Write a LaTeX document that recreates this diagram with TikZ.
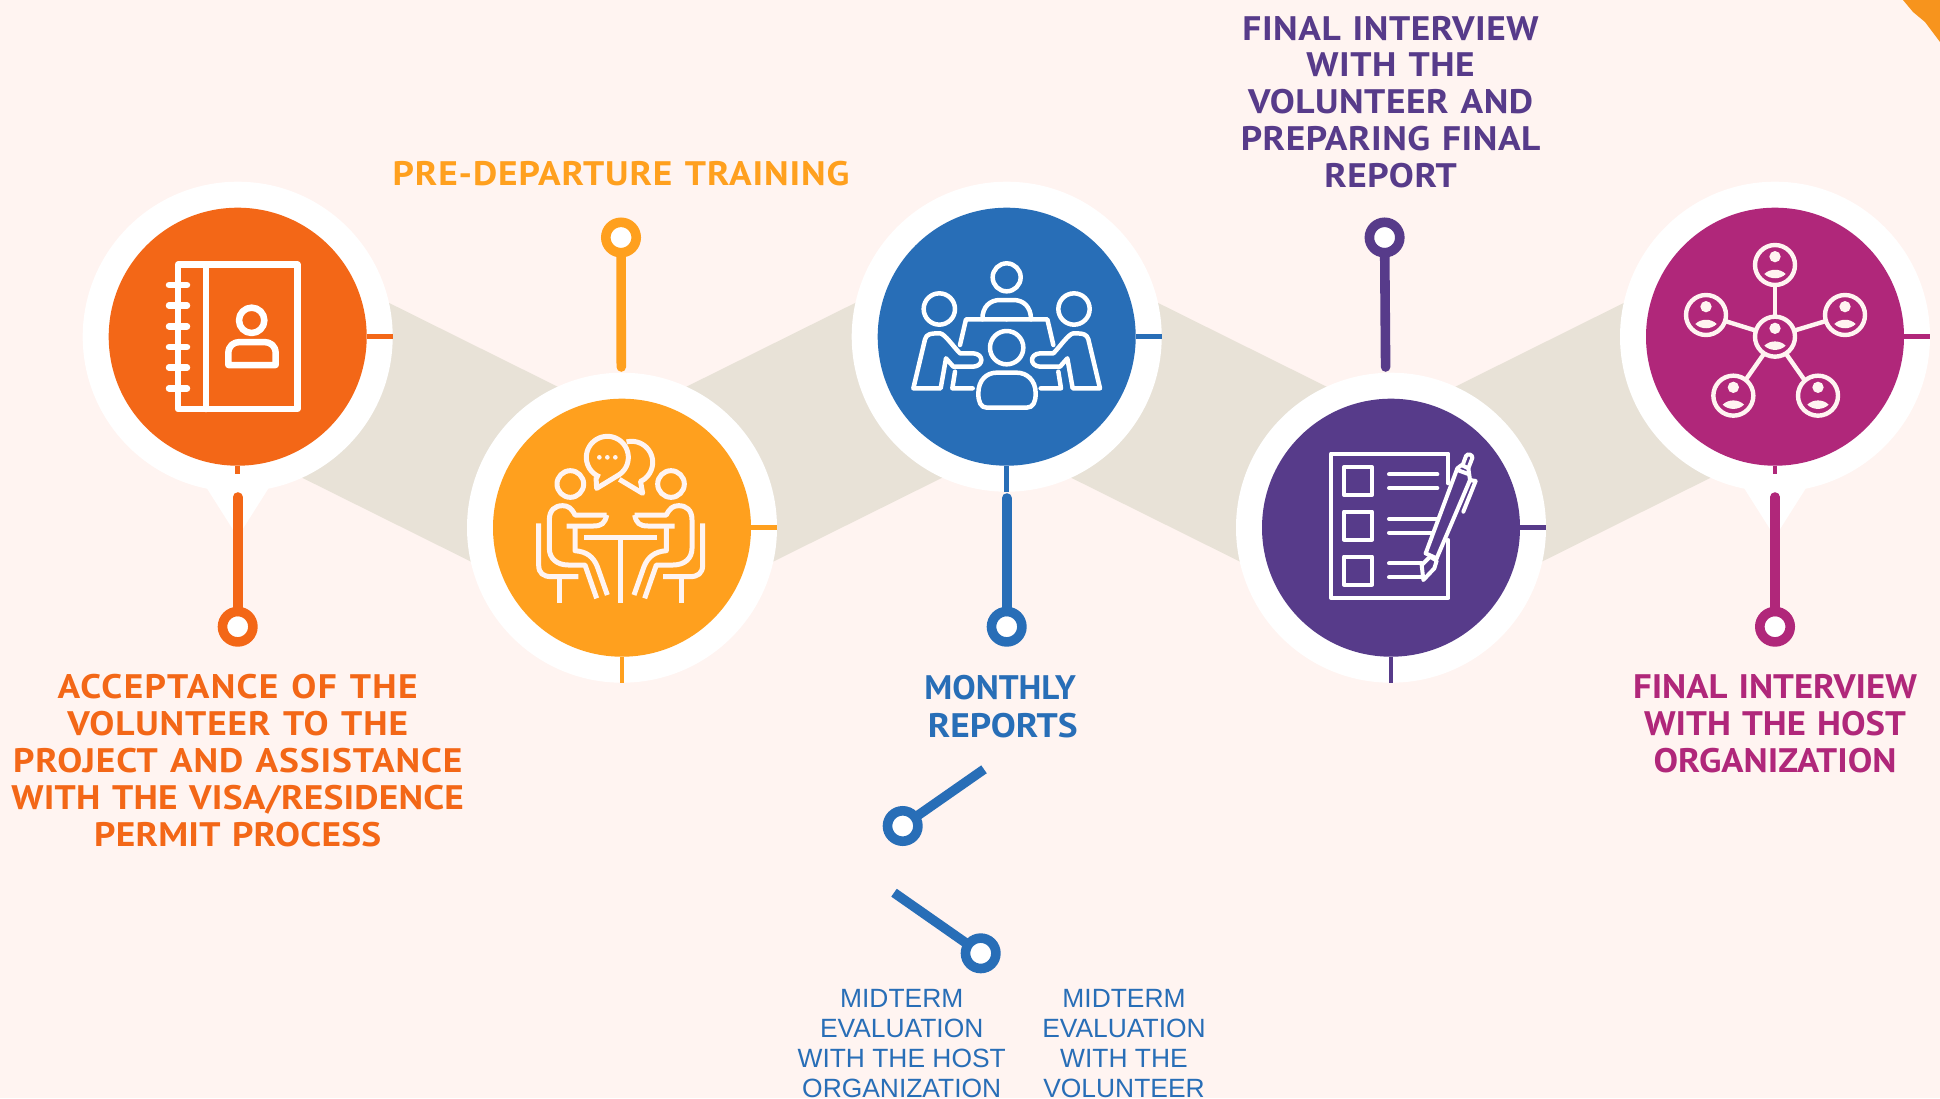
\documentclass[tikz,border=0pt]{standalone}
\usepackage{fontspec}
\setmainfont{Liberation Sans}
\newfontfamily\hdA[FakeStretch=1.1,LetterSpace=2.6,WordSpace=1.2]{PT Sans}
\newfontfamily\hdB[FakeStretch=1.1,LetterSpace=1.6,WordSpace=1.2]{PT Sans}
\newfontfamily\hdC[FakeStretch=1.08,WordSpace=1.2]{PT Sans}
\newfontfamily\hdD[FakeStretch=1.03]{PT Sans}
\newfontfamily\hdE[FakeStretch=1.1]{PT Sans}
\newfontfamily\hdF[FakeStretch=1.1,LetterSpace=0.6,WordSpace=1.2]{PT Sans}
\newfontfamily\hdG[FakeStretch=1.1,LetterSpace=4,WordSpace=1.2]{PT Sans}
\definecolor{bgc}{HTML}{FFF4F1}
\definecolor{bandc}{HTML}{E8E2D7}
\definecolor{corner}{HTML}{F7941D}
\definecolor{cA}{HTML}{F36717}
\definecolor{cB}{HTML}{FFA01E}
\definecolor{cC}{HTML}{286EB7}
\definecolor{cD}{HTML}{573B8A}
\definecolor{cE}{HTML}{B0277A}
\tikzset{
  outerdisc/.style={circle,fill=white,minimum size=310pt,inner sep=0pt,outer sep=0pt},
  innerdisc/.style={circle,fill=#1,minimum size=258pt,inner sep=0pt,outer sep=0pt},
  ringnode/.style={circle,draw=#1,fill=white,line width=9.6pt,minimum size=30.4pt,inner sep=0pt,outer sep=0pt},
  stem/.style={draw=#1,line width=9.6pt,line cap=round},
  stick/.style={draw=cC,line width=9.6pt},
  tick/.style={draw=#1,line width=4.5pt},
  heading/.style={text=#1,align=center,inner sep=0pt},
  headsize/.style={font=#1\bfseries\fontsize{34}{36.9}\selectfont},
  plainlabel/.style={text=cC,align=center,inner sep=0pt,font=\fontsize{26.4}{30}\selectfont},
  iconA/.style={draw=white,line width=6.5pt,line join=round,line cap=round},
  iconB/.style={draw=bgc,line width=5pt,line join=round},
  iconC/.style={draw=white,line width=4.5pt,line join=round,line cap=round},
  iconD/.style={draw=white,line width=4pt,line join=round,line cap=round},
  iconE/.style={draw=bgc,line width=4.4pt,line join=round},
}
\newcommand\sitter{%
  \draw (331,372) circle[radius=40];
  \draw (440,465) -- (345,465) .. controls (335,445) and (325,437) .. (308,437) .. controls (285,437) and (268,450) .. (268,480) -- (268,565) .. controls (268,595) and (290,615) .. (325,615) -- (375,615) -- (410,715);
  \draw (440,465) .. controls (435,490) and (425,498) .. (400,498) -- (320,498);
  \draw (345,498) -- (345,572) .. controls (380,575) and (400,590) .. (412,620) -- (442,705);
  \draw (236,490) -- (236,615) .. controls (236,640) and (250,650) .. (275,650) -- (355,650);
  \draw (299,650) -- (299,730);
}
\newcommand\sidefigure{%
  \draw (268,387) circle[radius=47];
  \draw (190,625) -- (225,478) .. controls (230,462) and (240,460) .. (270,460) .. controls (285,462) and (310,500) .. (330,520) -- (370,520) .. controls (402,522) and (402,558) .. (370,560) -- (310,560) -- (288,535) -- (272,625) -- cycle;
  \draw (330,495) -- (348,418) -- (470,418);
  \draw (315,575) -- (307,625) -- (368,625);
}
\newcommand\netnode[2]{%
  \draw (#1,#2) circle[radius=60];
  \fill[bgc,draw=none] (#1,#2-25) circle[radius=17];
  \fill[bgc,draw=none] (#1-32,#2+27) .. controls (#1-15,#2+10) and (#1+15,#2+10) .. (#1+32,#2+27) .. controls (#1+15,#2+44) and (#1-15,#2+44) .. (#1-32,#2+27) -- cycle;
}
\begin{document}
\begin{tikzpicture}[x=1pt,y=-1pt]
\useasboundingbox (0,0) rectangle (1940,1098);
\clip (0,0) rectangle (1940,1098);
\fill[bgc] (0,0) rectangle (1940,1098);
\fill[corner] (1903,0) -- (1913,12) -- (1925,22) -- (1940,42) -- (1940,0) -- cycle;

% ribbon
\fill[bandc] (237.7,227.7) -- (622,418.7) -- (622,636.7) -- (237.7,445.7) -- cycle;
\fill[bandc] (622,418.7) -- (1006.7,227.7) -- (1006.7,445.7) -- (622,636.7) -- cycle;
\fill[bandc] (1006.7,227.7) -- (1391,418.7) -- (1391,636.7) -- (1006.7,445.7) -- cycle;
\fill[bandc] (1391,418.7) -- (1775,227.7) -- (1775,445.7) -- (1391,636.7) -- cycle;

% white tails
\fill[white] (206.7,488) -- (268.7,488) -- (237.7,537) -- cycle;
\fill[white] (1744,488) -- (1806,488) -- (1775,537) -- cycle;

% stations
\foreach \n/\px/\py/\col in {1/237.7/336.7/cA,2/622/527.7/cB,3/1006.7/336.7/cC,4/1391/527.7/cD,5/1775/336.7/cE}{
  \node[outerdisc] (o\n) at (\px,\py) {};
  \node[innerdisc=\col] (i\n) at (\px,\py) {};
  \draw[tick=\col] (i\n.east) -- (o\n.east);
}
\coordinate (t1) at (237.7,474);
\coordinate (t5) at (1775,474);
\draw[tick=cA] (i1.south) -- (t1);
\draw[tick=cB] (i2.south) -- (o2.south);
\draw[tick=cC] (i3.south) -- (o3.south);
\draw[tick=cD] (i4.south) -- (o4.south);
\draw[tick=cE] (i5.south) -- (t5);

% rings and stems
\node[ringnode=cA] (r1) at (237.7,626.7) {};
\node[ringnode=cB] (r2) at (621,237.5) {};
\node[ringnode=cC] (r3) at (1006.7,626.7) {};
\node[ringnode=cD] (r4) at (1384.6,237.5) {};
\node[ringnode=cE] (r5) at (1775,626.7) {};
\coordinate (s1) at (237.7,497);
\coordinate (s2) at (621.3,367);
\coordinate (s3) at (1006.7,498);
\coordinate (s4) at (1385.6,367);
\coordinate (s5) at (1775,497);
\draw[stem=cA] (s1) -- (r1);
\draw[stem=cB] (s2) -- (r2);
\draw[stem=cC] (s3) -- (r3);
\draw[stem=cD] (s4) -- (r4);
\draw[stem=cE] (s5) -- (r5);

% midterm sticks
\node[ringnode=cC] (r6) at (902.7,826) {};
\node[ringnode=cC] (r7) at (980.7,953.3) {};
\coordinate (k6) at (984,769.3);
\coordinate (k7) at (894,892.7);
\draw[stick] (k6) -- (r6);
\draw[stick] (k7) -- (r7);

% icon 1: address book
\begin{scope}[xshift=60pt,yshift=-160pt,x=0.33333pt,y=-0.33333pt,every path/.append style={iconA}]
  \draw (354,314) rectangle (712,747);
  \draw (438,314) -- (438,747);
  \foreach \ry in {375,437,499,561,623,685}{\draw (327,\ry) -- (381,\ry);}
  \draw (575,481) circle[radius=38];
  \draw (505,615) -- (505,580) .. controls (505,558) and (520,546) .. (540,546) -- (612,546) .. controls (632,546) and (647,558) .. (647,580) -- (647,615) -- cycle;
\end{scope}

% icon 2: conversation at a table
\begin{scope}[xshift=460pt,yshift=-360pt,x=0.33333pt,y=-0.33333pt,every path/.append style={iconB}]
  \draw plot[domain=111:416,samples=50] ({442+63*cos(\x)},{292+63*sin(\x)}) -- (410,385) -- (408,352);
  \draw plot[domain=-104:65,samples=40] ({515+63*cos(\x)},{307+63*sin(\x)}) -- (548,400) -- (478,358);
  \foreach \dx in {418,442,466}{\fill[bgc,draw=none] (\dx,292) circle[radius=7];}
  \draw (372,532) -- (592,532);
  \draw (482,532) -- (482,730);
  \sitter
  \begin{scope}[xshift=321.33pt,xscale=-1]
    \sitter
  \end{scope}
\end{scope}

% icon 3: meeting
\begin{scope}[xshift=850pt,yshift=-180pt,x=0.33333pt,y=-0.33333pt,every path/.append style={iconC}]
  \draw (470,292) circle[radius=42];
  \draw (397,418) .. controls (397,380) and (420,360) .. (450,360) -- (490,360) .. controls (520,360) and (543,380) .. (543,418);
  \draw (470,503) circle[radius=50];
  \draw (385,640) .. controls (385,600) and (410,578) .. (440,578) -- (500,578) .. controls (530,578) and (557,600) .. (557,640) .. controls (557,665) and (550,683) .. (530,683) -- (410,683) .. controls (392,683) and (385,665) .. (385,640) -- cycle;
  \sidefigure
  \begin{scope}[xshift=313.33pt,xscale=-1]
    \sidefigure
  \end{scope}
\end{scope}

% icon 4: checklist and pen
\begin{scope}[xshift=1240pt,yshift=-370pt,x=0.33333pt,y=-0.33333pt,every path/.append style={iconD}]
  \draw (625,340) -- (625,251) -- (273,251) -- (273,684) -- (625,684) -- (625,510);
  \foreach \by in {291,425,560}{\draw (312,\by) rectangle (396,\by+84);}
  \draw (447,313) -- (592,313);
  \draw (447,354) -- (592,354);
  \draw (447,447) -- (590,447);
  \draw (447,488) -- (575,488);
  \draw (447,580) -- (545,580);
  \draw (447,622) -- (550,622);
  \draw (557,550) -- (652,295) -- (665,285) -- (685,295) -- (690,330) -- (590,565);
  \draw (557,550) -- (590,565);
  \draw (550,630) -- (545,585) -- (570,560) -- (590,572) -- (583,595) -- cycle;
  \draw (668,285) -- (678,258) .. controls (682,248) and (700,255) .. (697,264) -- (685,295);
  \draw (690,330) -- (707,333) -- (670,425);
  \draw (652,300) -- (685,312);
\end{scope}

% icon 5: network
\begin{scope}[xshift=1620pt,yshift=0pt,x=0.33333pt,y=-0.33333pt,every path/.append style={iconE}]
  \draw (465,855) -- (465,950);
  \draw (315,963) -- (408,992);
  \draw (618,963) -- (522,992);
  \draw (378,1138) -- (430,1064);
  \draw (552,1138) -- (500,1064);
  \netnode{465}{795}
  \netnode{258}{945}
  \netnode{675}{945}
  \netnode{340}{1187}
  \netnode{594}{1187}
  \netnode{465}{1010}
\end{scope}

% labels
\node[heading=cA,headsize=\hdA] (lab1) at (237.7,760.5) {{\hdG\bfseries ACCEPTANCE OF THE}\\VOLUNTEER TO THE\\PROJECT AND ASSISTANCE\\{\hdF\bfseries WITH THE VISA/RESIDENCE}\\{\hdF\bfseries PERMIT PROCESS}};
\node[heading=cB,headsize=\hdA] (lab2) at (621,173.5) {PRE-DEPARTURE TRAINING};
\node[heading=cC,headsize=\hdD] (lab3a) at (1000,688) {MONTHLY};
\node[heading=cC,headsize=\hdE] (lab3b) at (1002.7,725.7) {REPORTS};
\node[heading=cD,headsize=\hdB] (lab4) at (1390.6,102) {FINAL INTERVIEW\\WITH THE\\VOLUNTEER AND\\PREPARING FINAL\\REPORT};
\node[heading=cE,headsize=\hdC] (lab5) at (1775,723.5) {FINAL INTERVIEW\\WITH THE HOST\\ORGANIZATION};
\node[plainlabel] (lab6) at (901.7,1044) {MIDTERM\\EVALUATION\\WITH THE HOST\\ORGANIZATION};
\node[plainlabel] (lab7) at (1124,1044) {MIDTERM\\EVALUATION\\WITH THE\\VOLUNTEER};
\end{tikzpicture}
\end{document}
